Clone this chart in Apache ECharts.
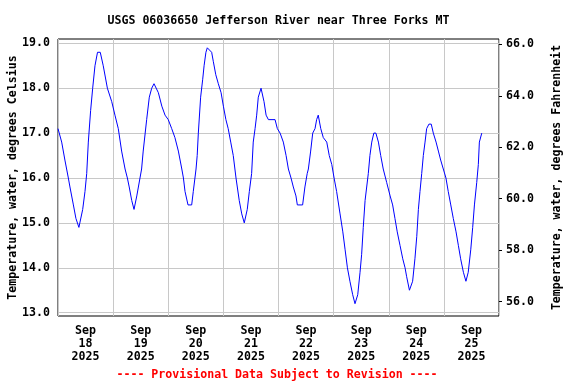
<!DOCTYPE html>
<html>
<head>
<meta charset="utf-8">
<script src="https://cdn.jsdelivr.net/npm/echarts@6/dist/echarts.min.js"></script>
<style>html,body{margin:0;padding:0;background:#fff}#c{width:576px;height:384px}</style>
</head>
<body>
<div id="c"></div>
<script>
// hours since Sep 18 2025 00:00
const hours = [0,1.6,3.0,4.5,5.2,6.7,7.8,9.1,10.75,11.75,12.5,13.2,14.2,15.1,16.1,17.2,18.4,19.7,21.5,23.4,
24.8,26.25,27.7,29.2,30.2,31.0,32.1,33.1,34.3,35.7,36.4,37.1,38.6,39.75,40.8,41.8,42.6,43.7,45.2,46.6,
48.0,49.5,50.9,52.4,53.9,54.6,55.3,56.6,58.2,58.9,60.1,60.6,61.1,62.1,63.0,63.6,64.4,65.0,65.8,66.9,67.6,68.7,69.8,71.0,
72.0,73.1,74.1,75.2,76.3,77.5,78.9,80.0,81.1,82.4,83.3,84.3,85.0,85.8,86.5,87.2,88.4,89.7,90.6,91.6,94.5,95.5,
96.7,98.1,99.3,100.3,101.45,102.45,103.6,104.2,106.5,107.5,108.5,109.0,110.0,110.9,111.9,112.6,113.3,113.8,114.4,115.5,117.0,118.1,119.2,
120.2,121.3,122.8,124.0,125.0,126.0,127.1,128.3,129.3,130.5,131.5,132.2,132.9,133.7,135.1,135.8,136.6,137.5,138.4,139.5,140.5,141.6,143.1,
144.6,145.7,146.7,147.7,148.9,150.1,151.1,151.8,153.0,153.6,154.4,155.4,156.2,156.9,157.6,158.35,159.05,159.8,160.5,161.5,162.5,163.4,164.6,165.6,166.6,167.75,
168.9,169.9,171.0,172.1,173.3,174.3,175.3,176.5,177.6,178.6,179.7,180.55,181.3,182.3,183.0,183.45,184.5];
const tempC = [17.1,16.8,16.4,16.0,15.8,15.4,15.1,14.9,15.3,15.7,16.1,16.8,17.5,18.0,18.5,18.8,18.8,18.5,18.0,17.7,
17.4,17.1,16.6,16.2,16.0,15.8,15.5,15.3,15.6,16.0,16.2,16.6,17.3,17.8,18.0,18.1,18.1,17.9,17.6,17.4,
17.3,17.1,16.9,16.6,16.2,16.0,15.7,15.4,15.4,15.7,16.2,16.5,17.0,17.8,18.2,18.5,18.8,18.9,18.9,18.8,18.6,18.3,18.1,17.9,
17.6,17.3,17.1,16.8,16.5,16.0,15.5,15.2,15.0,15.3,15.7,16.1,16.8,17.1,17.4,17.8,18.0,17.7,17.4,17.3,17.3,17.1,
17.0,16.8,16.5,16.2,16.0,15.8,15.6,15.4,15.4,15.8,16.1,16.2,16.6,17.0,17.1,17.3,17.4,17.4,17.1,16.9,16.8,16.5,16.3,
16.0,15.7,15.2,14.8,14.4,14.0,13.7,13.4,13.2,13.4,13.9,14.3,14.9,15.5,16.1,16.5,16.8,17.0,17.0,16.8,16.5,16.2,15.9,
15.6,15.4,15.1,14.8,14.5,14.2,14.0,13.8,13.5,13.5,13.7,14.2,14.7,15.3,15.7,16.1,16.5,16.8,17.1,17.2,17.2,17.0,16.8,16.6,16.4,16.2,
16.0,15.7,15.4,15.1,14.8,14.5,14.2,13.9,13.7,13.9,14.4,14.9,15.4,15.9,16.3,16.8,17.0];
const dayTicks = [12,36,60,84,108,132,156,180];
const dayLabels = ['Sep\n18\n2025','Sep\n19\n2025','Sep\n20\n2025','Sep\n21\n2025','Sep\n22\n2025','Sep\n23\n2025','Sep\n24\n2025','Sep\n25\n2025'];
const celsiusTicks = [13,14,15,16,17,18,19];
const fahrenheitTicks = [56,58,60,62,64,66];

const FONT = 'DejaVu Sans Mono';
const txt = {fontFamily: FONT, fontWeight: 'bold', fontSize: 11.6, color: '#000'};
const chart = echarts.init(document.getElementById('c'), null, {renderer: 'canvas'});
chart.setOption({
  animation: false,
  backgroundColor: '#fff',
  grid: {left: 58, right: 77, top: 39, bottom: 68, outerBoundsMode: 'none', containLabel: false,
    show: true, borderColor: '#000', borderWidth: 1, backgroundColor: 'transparent'},
  xAxis: {
    type: 'value', min: 0, max: 192, interval: 24,
    axisLine: {show: false}, axisTick: {show: false},
    splitLine: {show: true, lineStyle: {color: '#c8c8c8', width: 1}},
    axisLabel: Object.assign({}, txt, {
      customValues: dayTicks, margin: 8, lineHeight: 13,
      formatter: v => dayLabels[dayTicks.indexOf(v)] || ''
    })
  },
  yAxis: [{
    type: 'value', position: 'left', min: 12.926, max: 19.096,
    axisLine: {show: false},
    axisTick: {show: false, customValues: celsiusTicks},
    splitLine: {show: true, lineStyle: {color: '#c8c8c8', width: 1}},
    axisLabel: Object.assign({}, txt, {customValues: celsiusTicks, margin: 8, formatter: v => v.toFixed(1)}),
    name: 'Temperature, water, degrees Celsius', nameLocation: 'middle', nameRotate: 90, nameGap: 39,
    nameMoveOverlap: false,
    nameTextStyle: Object.assign({}, txt)
  }, {
    type: 'value', position: 'right', min: 55.444, max: 66.206,
    axisLine: {show: false},
    axisTick: {show: true, inside: false, length: 3, customValues: fahrenheitTicks, lineStyle: {color: '#000'}},
    splitLine: {show: false},
    axisLabel: Object.assign({}, txt, {customValues: fahrenheitTicks, margin: 7, formatter: v => v.toFixed(1)}),
    name: 'Temperature, water, degrees Fahrenheit', nameLocation: 'middle', nameRotate: 90, nameGap: 52,
    nameMoveOverlap: false,
    nameTextStyle: Object.assign({}, txt)
  }],
  graphic: [{
    type: 'text', x: 278.5, y: 20.5,
    style: {text: 'USGS 06036650 Jefferson River near Three Forks MT', fill: '#000',
      font: 'bold 11.6px "DejaVu Sans Mono"', align: 'center', verticalAlign: 'middle'}
  }, {
    type: 'text', x: 277, y: 375,
    style: {text: '---- Provisional Data Subject to Revision ----', fill: '#ff0000',
      font: 'bold 11.6px "DejaVu Sans Mono"', align: 'center', verticalAlign: 'middle'}
  }],
  series: [{
    type: 'line', xAxisIndex: 0, yAxisIndex: 0,
    data: hours.map((h, i) => [h, tempC[i]]),
    showSymbol: false, symbol: 'none',
    lineStyle: {color: '#0000ff', width: 1}, itemStyle: {color: '#0000ff'}
  }]
});
</script>
</body>
</html>
